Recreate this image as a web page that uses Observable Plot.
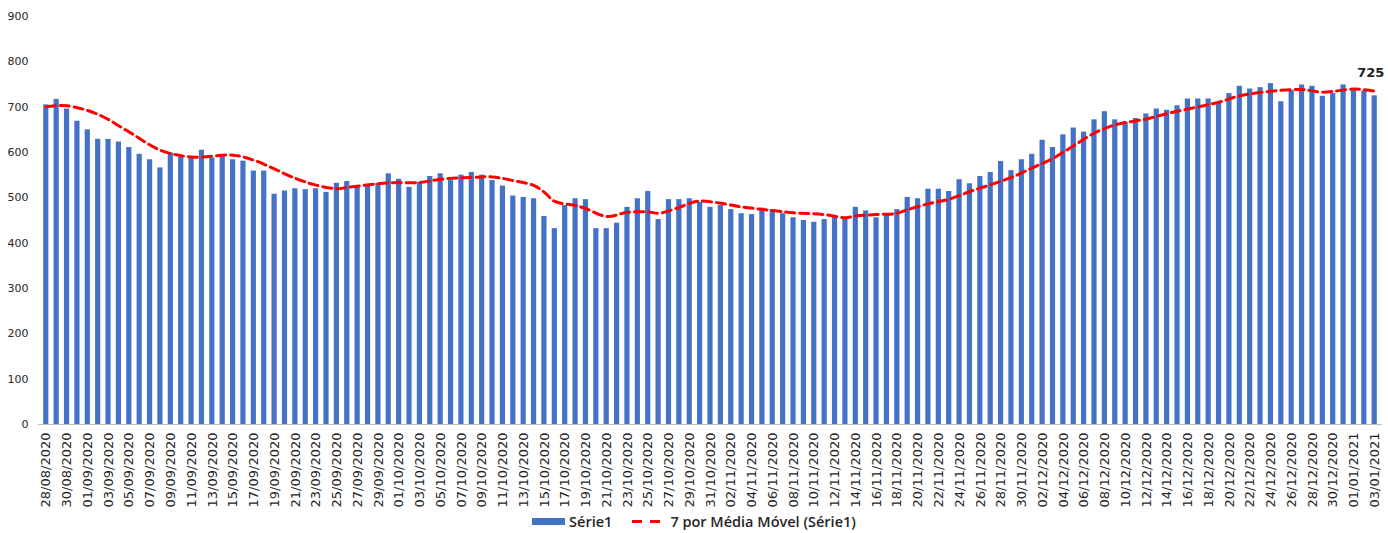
<!DOCTYPE html>
<html>
<head>
<meta charset="utf-8">
<script src="https://cdn.jsdelivr.net/npm/d3@7"></script>
<script src="https://cdn.jsdelivr.net/npm/@observablehq/plot@0.6"></script>
<style>
  body { margin: 0; background: #fff; font-family: "DejaVu Sans", sans-serif; }
  #chart svg { display: block; }
  .legend { height: 23px; display: flex; justify-content: center; align-items: center; font-family: "Open Sans", sans-serif; font-weight: 600; font-size: 14.5px; color: #262626; }
  .legend .sw { display: inline-block; width: 33px; height: 7px; background: #4472C4; margin-right: 4px; }
  .legend .dash { display: inline-block; width: 10px; height: 3px; background: #FF0000; }
</style>
</head>
<body>
<div id="chart"></div>
<div class="legend"><span class="sw"></span><span>Série1</span><span class="dash" style="margin-left:20px"></span><span class="dash" style="margin-left:8px;margin-right:10px"></span><span>7 por Média Móvel (Série1)</span></div>
<script>
// categories: daily dates 28/08/2020 .. 03/01/2021
const startDate = new Date(Date.UTC(2020, 7, 28));
const endDate = new Date(Date.UTC(2021, 0, 4));
const fmt = d3.utcFormat("%d/%m/%Y");
const dates = d3.utcDay.range(startDate, endDate).map(fmt);

// Série1 daily values
const serie1 = [
  705,717,696,669,650,629,629,623,611,596,584,566,599,590,590,605,588,593,584,581,559,559,508,515,520,518,520,512,532,536,
  526,527,532,553,541,523,534,547,553,538,550,556,550,538,526,504,501,498,459,432,483,498,496,432,432,444,479,498,514,452,496,496,498,
  490,479,483,474,465,463,477,474,465,456,450,446,452,459,456,479,471,456,462,474,501,498,519,519,514,540,531,547,556,580,560,
  584,596,627,611,639,654,645,672,690,672,666,675,685,696,693,703,718,718,718,709,730,746,740,743,752,712,737,749,746,724,730,749,740,736,725
];

// 7-day moving average line at these day positions
const maDay = [0,2,5,8,11,14,18,20,24,26,28,29,33,36,38,41,43,45,47,48,49,51,52,54,56,58,59,61,62,63,65,67,70,72,75,77,78,80,82,83,85,87,89,91,93,95,97,99,101,103,106,108,110,113,115,118,121,123,126,128];
const maValue = [701,703,684,645,605,590,594,583,543,528,520,523,533,534,541,545,546,538,527,512,492,483,476,459,468,469,466,479,488,493,488,480,472,467,463,456,460,463,466,474,487,497,514,529,545,566,587,615,643,661,674,686,696,711,725,735,739,733,740,735];

const yTicks = [0,100,200,300,400,500,600,700,800,900];
const xTicks = dates.filter((d, i) => i % 2 === 0);

const bars = dates.map((d, i) => ({date: d, value: serie1[i]}));
const ma = maDay.map((k, i) => ({date: dates[k], value: maValue[i]}));
const last = bars[bars.length - 1];

const chart = Plot.plot({
  width: 1388,
  height: 510,
  marginTop: 16,
  marginBottom: 86,
  marginLeft: 38,
  marginRight: 6,
  style: {fontFamily: "DejaVu Sans, sans-serif", fontSize: "11px", color: "#262626", background: "#fff"},
  x: {type: "band", domain: dates, padding: 0.5, ticks: xTicks, tickRotate: -90, tickSize: 0, tickPadding: 8, label: null},
  y: {domain: [0, 900], ticks: yTicks, tickSize: 0, tickPadding: 10, label: null},
  marks: [
    Plot.barY(bars, {x: "date", y: "value", fill: "#4472C4"}),
    Plot.ruleY([0], {stroke: "#bfbfbf", strokeWidth: 1}),
    Plot.line(ma, {x: "date", y: "value", stroke: "#FF0000", strokeWidth: 3, strokeDasharray: "9,5", curve: "catmull-rom"}),
    Plot.text([last], {x: "date", y: "value", text: d => String(d.value), dy: -23, dx: -4, fontWeight: "bold", fontSize: 13, fill: "#222"})
  ]
});
chart.querySelectorAll("[aria-label='x-axis tick label'] text").forEach(t => t.setAttribute("font-size", "13"));
document.getElementById("chart").append(chart);
</script>
</body>
</html>
